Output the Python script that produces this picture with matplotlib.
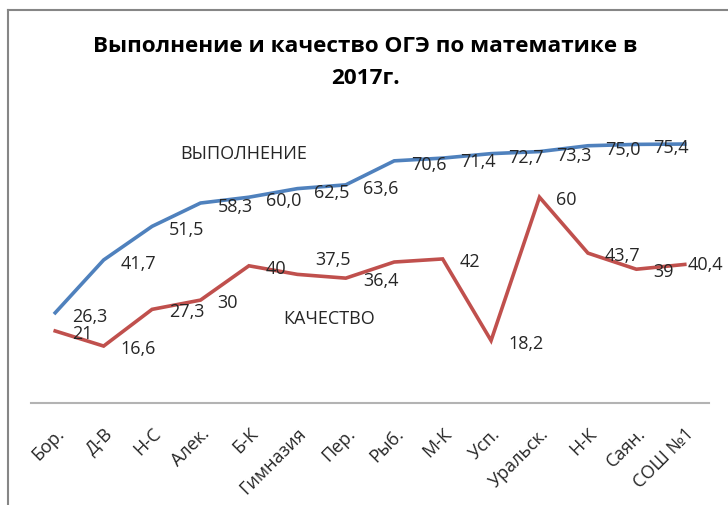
import matplotlib
matplotlib.use('Agg')
import matplotlib.pyplot as plt
import numpy as np

plt.rcParams['font.family'] = ['Open Sans', 'DejaVu Sans']

#------------------------------------------------------------------------------
# data
schools = ['Бор.', 'Д-В', 'Н-С', 'Алек.', 'Б-К', 'Гимназия', 'Пер.', 'Рыб.',
           'М-К', 'Усп.', 'Уральск.', 'Н-К', 'Саян.', 'СОШ №1']
vypolnenie = [26.3, 41.7, 51.5, 58.3, 60.0, 62.5, 63.6, 70.6, 71.4, 72.7, 73.3, 75.0, 75.4, 75.5]
kachestvo  = [21, 16.6, 27.3, 30, 40, 37.5, 36.4, 41.1, 42, 18.2, 60, 43.7, 39, 40.4]
# labels as shown (None = no label on the picture)
vyp_labels  = ['26,3', '41,7', '51,5', '58,3', '60,0', '62,5', '63,6', '70,6',
               '71,4', '72,7', '73,3', '75,0', '75,4', None]
kach_labels = ['21', '16,6', '27,3', '30', '40', '37,5', '36,4', None,
               '42', '18,2', '60', '43,7', '39', '40,4']

blue = '#4f81bd'
red = '#c0504d'

fig = plt.figure(figsize=(7.28, 5.06), dpi=100)
ax = fig.add_axes([31/728, 102/506, 678/728, 343/506])

x = np.arange(len(schools))
ax.plot(x, vypolnenie, color=blue, lw=2.6, solid_joinstyle='miter')
ax.plot(x, kachestvo, color=red, lw=2.6, solid_joinstyle='miter')

# data labels, right of the point
n = len(schools)
for i in range(n):
    if vyp_labels[i] is not None:
        ax.annotate(vyp_labels[i], (x[i], vypolnenie[i]), xytext=(17, -3),
                    textcoords='offset pixels', ha='left', va='center',
                    fontsize=13, color='#262626')
    if kach_labels[i] is not None:
        off = (17, -2)
        if kach_labels[i] == '37,5':
            off = (18, 15)
        if i == n - 1:
            off = (3, 0)   # pushed inside the chart
        ax.annotate(kach_labels[i], (x[i], kachestvo[i]), xytext=off,
                    textcoords='offset pixels', ha='left', va='center',
                    fontsize=13, color='#262626')

# series names
ax.text(2.58, 73.0, 'ВЫПОЛНЕНИЕ', fontsize=13, color='#262626', va='center', ha='left')
ax.text(4.7, 24.8, 'КАЧЕСТВО', fontsize=13, color='#262626', va='center', ha='left')

ax.set_xlim(-0.5, n - 0.5)
ax.set_ylim(0, 100)
ax.set_yticks([])
ax.set_xticks(x)
ax.set_xticklabels(schools, rotation=45, ha='right', rotation_mode='anchor',
                   fontsize=13, color='#262626')
ax.tick_params(axis='x', length=0, pad=15)
for s in ['top', 'right', 'left']:
    ax.spines[s].set_visible(False)
ax.spines['bottom'].set_color('#b3b3b3')
ax.spines['bottom'].set_linewidth(1.5)
ax.patch.set_alpha(0)

fig.text(365/728, 1 - 46/506, 'Выполнение и качество ОГЭ по математике в',
         ha='center', va='center', fontsize=16.2, fontweight='bold')
fig.text(365/728, 1 - 78/506, '2017г.',
         ha='center', va='center', fontsize=16.2, fontweight='bold')

# chart border (top and left edges visible)
fig.add_artist(plt.Line2D([8/728, 8/728], [0, 1 - 11/506], transform=fig.transFigure,
                          color='#868686', lw=1.5))
fig.add_artist(plt.Line2D([8/728, 1], [1 - 11/506, 1 - 11/506], transform=fig.transFigure,
                          color='#868686', lw=1.5))

plt.savefig('out.png', dpi=100)
